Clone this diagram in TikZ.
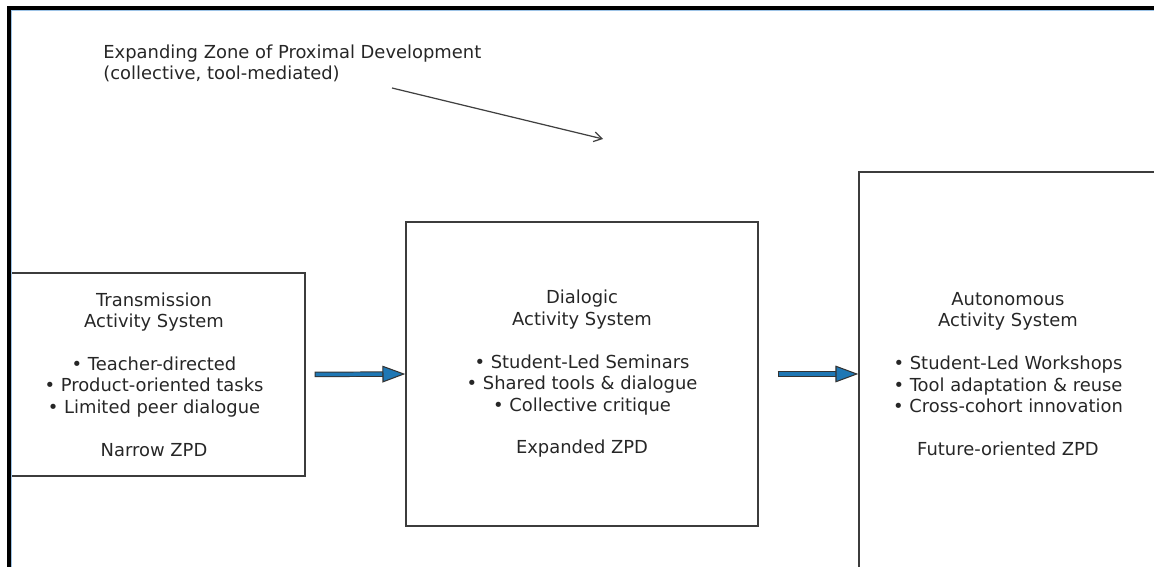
\documentclass[tikz,border=0pt]{standalone}
\usepackage{fontspec}
\setmainfont{DejaVu Sans}
\usetikzlibrary{arrows.meta}
\definecolor{arrowblue}{HTML}{1F77B4}
\definecolor{boxgray}{HTML}{3C3C3C}
\definecolor{framelight}{HTML}{9DC3E6}
\tikzset{
  plaintext/.style={inner sep=0pt, text=black!85, font=\fontsize{10.2}{12.2}\selectfont},
  system/.style={plaintext, draw=boxgray, line width=0.85pt, align=center},
  pointer/.style={draw=black!75, line width=0.7pt, -{Straight Barb[length=4.5pt, width=5.5pt]}},
  fatshaft/.style={draw=black!80, line width=3.1pt, shorten >=12pt},
  fathead/.style={draw=arrowblue, line width=2pt,
    -{Triangle[length=13pt, width=9.5pt, fill=arrowblue, color=black!80, line width=0.6pt]}},
}
\begin{document}
\begin{tikzpicture}[x=0.02cm, y=-0.02cm]
  \useasboundingbox (0,0) rectangle (1154,567);
  % heading and its pointer
  \node[plaintext, anchor=west, align=left] (zpd) at (103,63.5)
    {Expanding Zone of Proximal Development\\(collective, tool-mediated)};
  \coordinate (zpdtail) at (392,88);
  \coordinate (zpdtip) at (603,139);
  \draw[pointer] (zpdtail) -- (zpdtip);
  % the three activity systems
  \node[system, minimum width=6.04cm, minimum height=4.06cm] (trans) at (154,374.5)
    {Transmission\\Activity System\\[12.2pt]• Teacher-directed\\• Product-oriented tasks\\• Limited peer dialogue\\[12.2pt]Narrow ZPD};
  \node[system, minimum width=7.04cm, minimum height=6.08cm] (dial) at (582,374)
    {Dialogic\\Activity System\\[12.2pt]• Student-Led Seminars\\• Shared tools \& dialogue\\• Collective critique\\[12.2pt]Expanded ZPD};
  \node[system, minimum width=5.96cm, minimum height=8.08cm] (auto) at (1008,374)
    {Autonomous\\Activity System\\[12.2pt]• Student-Led Workshops\\• Tool adaptation \& reuse\\• Cross-cohort innovation\\[12.2pt]Future-oriented ZPD};
  % transitions
  \draw[fatshaft, shorten <=0.18cm] (trans.east) -- (dial.west);
  \draw[fathead, shorten <=0.2cm] (trans.east) -- (dial.west);
  \draw[fatshaft, shorten <=0.38cm] (dial.east) -- (auto.west);
  \draw[fathead, shorten <=0.4cm] (dial.east) -- (auto.west);
  % window frame
  \fill[white] (0,0) rectangle (9,567);
  \draw[framelight, line width=0.6pt] (11.5,567) -- (11.5,10.5) -- (1154,10.5);
  \draw[black, line width=1.8pt] (9,567) -- (9,8) -- (1154,8);
\end{tikzpicture}
\end{document}
